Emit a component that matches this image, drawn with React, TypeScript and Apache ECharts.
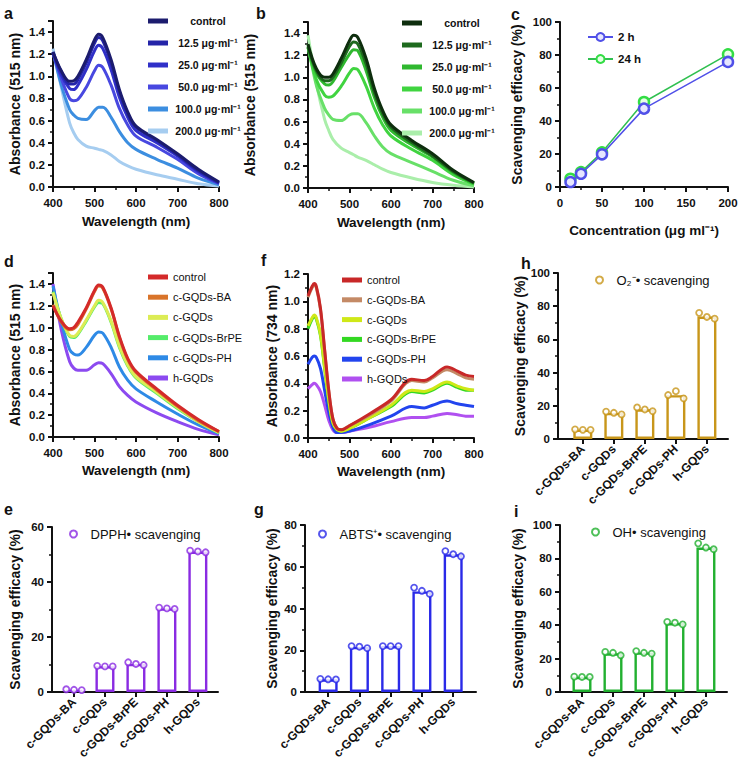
import React, { useEffect, useRef } from "react";
import * as echarts from "echarts";

const FONT = "Liberation Sans, Arial, Helvetica, sans-serif";
const INK = "#111111";

// ---------- spectra (a, b, d) ----------
const WL = [400, 420, 440, 450, 460, 480, 500, 510, 520, 540, 560, 580, 600, 650, 700, 750, 800];

const A_LABELS = ["control", "12.5 μg·ml⁻¹", "25.0 μg·ml⁻¹", "50.0 μg·ml⁻¹", "100.0 μg·ml⁻¹", "200.0 μg·ml⁻¹"];
const A_COLORS = ["#1c1c6e", "#2424a8", "#3030c8", "#4848e0", "#3c8ee0", "#a6cdf0"];
const A_CONTROL = [1.22, 1.05, 0.955, 0.96, 1.0, 1.15, 1.33, 1.38, 1.35, 1.15, 0.88, 0.68, 0.55, 0.43, 0.3, 0.16, 0.045];
const A_12 = [1.22, 1.04, 0.93, 0.93, 0.97, 1.12, 1.3, 1.35, 1.32, 1.12, 0.86, 0.66, 0.54, 0.42, 0.29, 0.15, 0.04];
const A_25 = [1.21, 1.01, 0.89, 0.88, 0.92, 1.06, 1.23, 1.28, 1.25, 1.06, 0.81, 0.63, 0.51, 0.4, 0.28, 0.14, 0.035];
const A_50 = [1.21, 0.98, 0.8, 0.78, 0.79, 0.9, 1.05, 1.1, 1.08, 0.92, 0.71, 0.56, 0.46, 0.36, 0.25, 0.12, 0.03];
const A_100 = [1.22, 0.92, 0.7, 0.65, 0.62, 0.61, 0.69, 0.72, 0.72, 0.63, 0.5, 0.4, 0.34, 0.25, 0.17, 0.08, 0.02];
const A_200 = [1.25, 0.9, 0.58, 0.49, 0.43, 0.37, 0.35, 0.34, 0.33, 0.29, 0.23, 0.19, 0.16, 0.11, 0.07, 0.03, 0.01];

const B_COLORS = ["#0e2e0e", "#1e6a1e", "#2fb82f", "#40d440", "#68e068", "#aaeeaa"];
const B_CONTROL = [1.3, 1.08, 1.0, 1.0, 1.03, 1.17, 1.33, 1.38, 1.36, 1.17, 0.9, 0.7, 0.57, 0.43, 0.31, 0.16, 0.05];
const B_12 = [1.28, 1.06, 0.97, 0.97, 1.0, 1.13, 1.28, 1.32, 1.3, 1.12, 0.86, 0.67, 0.55, 0.41, 0.29, 0.15, 0.045];
const B_25 = [1.27, 1.04, 0.94, 0.93, 0.96, 1.09, 1.21, 1.25, 1.24, 1.06, 0.82, 0.64, 0.52, 0.39, 0.28, 0.14, 0.04];
const B_50 = [1.27, 0.98, 0.84, 0.82, 0.83, 0.92, 1.04, 1.08, 1.07, 0.92, 0.72, 0.57, 0.47, 0.35, 0.25, 0.12, 0.035];
const B_100 = [1.3, 0.93, 0.72, 0.66, 0.62, 0.61, 0.66, 0.67, 0.67, 0.59, 0.47, 0.37, 0.31, 0.23, 0.15, 0.07, 0.02];
const B_200 = [1.38, 0.95, 0.62, 0.52, 0.44, 0.36, 0.32, 0.3, 0.28, 0.25, 0.21, 0.17, 0.14, 0.09, 0.05, 0.025, 0.01];

const D_LABELS = ["control", "c-GQDs-BA", "c-GQDs", "c-GQDs-BrPE", "c-GQDs-PH", "h-GQDs"];
const D_COLORS = ["#d42a2a", "#d9742a", "#dcec55", "#55ec6a", "#2e8ae6", "#8c4af0"];
const D_CONTROL = [1.2, 1.06, 0.99, 1.0, 1.05, 1.18, 1.34, 1.39, 1.37, 1.18, 0.92, 0.72, 0.6, 0.44, 0.29, 0.16, 0.05];
const D_BA = [1.21, 1.05, 0.98, 0.99, 1.03, 1.17, 1.33, 1.38, 1.36, 1.17, 0.91, 0.71, 0.59, 0.43, 0.28, 0.15, 0.05];
const D_CG = [1.32, 1.08, 0.93, 0.92, 0.95, 1.07, 1.2, 1.25, 1.23, 1.06, 0.83, 0.66, 0.55, 0.41, 0.27, 0.14, 0.04];
const D_BRPE = [1.33, 1.08, 0.92, 0.91, 0.94, 1.06, 1.19, 1.23, 1.22, 1.05, 0.82, 0.65, 0.54, 0.4, 0.26, 0.14, 0.04];
const D_PH = [1.38, 1.05, 0.8, 0.76, 0.75, 0.82, 0.93, 0.96, 0.95, 0.82, 0.64, 0.52, 0.44, 0.32, 0.21, 0.11, 0.03];
const D_H = [1.4, 0.98, 0.69, 0.63, 0.61, 0.61, 0.66, 0.68, 0.67, 0.58, 0.46, 0.38, 0.32, 0.22, 0.14, 0.07, 0.02];

// ---------- spectra (f) ----------
const WLF = [400, 410, 415, 420, 430, 440, 450, 460, 470, 480, 500, 550, 600, 650, 680, 700, 735, 760, 780, 800];
const F_COLORS = ["#c82828", "#c48a66", "#cfe818", "#33d822", "#2244ee", "#b050f0"];
const F_CONTROL = [1.04, 1.11, 1.13, 1.11, 0.95, 0.65, 0.35, 0.14, 0.07, 0.06, 0.09, 0.18, 0.28, 0.43, 0.42, 0.45, 0.52, 0.49, 0.46, 0.45];
const F_BA = [1.03, 1.1, 1.12, 1.1, 0.94, 0.64, 0.34, 0.14, 0.07, 0.06, 0.09, 0.17, 0.27, 0.42, 0.41, 0.44, 0.5, 0.47, 0.44, 0.43];
const F_CG = [0.82, 0.88, 0.9, 0.88, 0.76, 0.52, 0.28, 0.11, 0.06, 0.05, 0.07, 0.15, 0.24, 0.35, 0.34, 0.36, 0.41, 0.38, 0.36, 0.35];
const F_BRPE = [0.8, 0.87, 0.89, 0.87, 0.75, 0.51, 0.27, 0.11, 0.06, 0.05, 0.07, 0.15, 0.23, 0.34, 0.33, 0.35, 0.4, 0.37, 0.35, 0.35];
const F_PH = [0.54, 0.59, 0.6, 0.59, 0.51, 0.35, 0.19, 0.08, 0.04, 0.04, 0.05, 0.1, 0.16, 0.23, 0.22, 0.24, 0.27, 0.25, 0.24, 0.23];
const F_H = [0.36, 0.39, 0.4, 0.39, 0.34, 0.24, 0.13, 0.06, 0.04, 0.04, 0.05, 0.08, 0.12, 0.15, 0.15, 0.16, 0.18, 0.17, 0.16, 0.16];

// ---------- panel c ----------
const C_CONC = [12.5, 25, 50, 100, 200];
const C_2H = [3.0, 8.0, 19.8, 47.5, 75.8];
const C_24H = [5.0, 9.0, 21.0, 51.5, 80.4];

// ---------- bar panels ----------
const CATS = ["c-GQDs-BA", "c-GQDs", "c-GQDs-BrPE", "c-GQDs-PH", "h-GQDs"];
const CAT_POS = [1, 2, 3, 4, 5];
const JITTER = [-0.25, 0, 0.25];

const E_MEANS = [0.8, 9.4, 10.2, 30.4, 51.1];
const E_REPS = [[1.0, 0.8, 0.7], [9.5, 9.3, 9.3], [10.8, 10.2, 9.8], [30.7, 30.4, 30.2], [51.4, 51.1, 50.8]];
const G_MEANS = [6.1, 21.6, 22.0, 48.2, 66.0];
const G_REPS = [[6.3, 6.1, 6.0], [22.0, 21.7, 21.0], [22.0, 22.0, 22.0], [50.0, 48.5, 47.0], [67.5, 66.0, 65.0]];
const H_MEANS = [5.6, 15.7, 17.9, 26.4, 73.8];
const H_REPS = [[5.8, 5.5, 5.5], [16.5, 15.8, 14.8], [19.0, 17.8, 16.8], [26.5, 28.8, 24.5], [76.0, 73.5, 72.5]];
const I_MEANS = [9.1, 23.2, 23.7, 41.3, 86.5];
const I_REPS = [[9.2, 9.0, 9.0], [24.0, 23.5, 22.0], [24.5, 23.5, 23.0], [42.0, 41.5, 40.5], [89.0, 86.5, 85.5]];

const labelStyle = { fontFamily: FONT, fontWeight: "bold", fontSize: 11.5, color: INK };
const nameStyleX = { fontFamily: FONT, fontWeight: "bold", fontSize: 13.5, color: INK };
const nameStyleY = { fontFamily: FONT, fontWeight: "bold", fontSize: 14, color: INK };

function axisCommon() {
  return {
    axisLine: { show: true, lineStyle: { color: INK, width: 2 } },
    axisTick: { show: true, length: 5, lineStyle: { color: INK, width: 2 } },
    minorTick: { show: true, splitNumber: 2, length: 3, lineStyle: { color: INK, width: 1.5 } },
    splitLine: { show: false },
    minorSplitLine: { show: false },
  };
}

function specX(grid: number, gap: number) {
  return {
    type: "value", gridIndex: grid, min: 400, max: 800, interval: 100,
    ...axisCommon(),
    axisLabel: { ...labelStyle, margin: 10 },
    name: "Wavelength (nm)", nameLocation: "middle", nameGap: gap, nameTextStyle: nameStyleX,
  };
}

function specY(grid: number, max: number, title: string, gap: number) {
  return {
    type: "value", gridIndex: grid, min: 0, max, interval: 0.2,
    ...axisCommon(),
    axisLabel: { ...labelStyle, margin: 8, showMaxLabel: max === 1.2, formatter: (v: number) => v.toFixed(1) },
    name: title, nameLocation: "middle", nameGap: gap, nameTextStyle: nameStyleY,
  };
}

function barX(grid: number, min: number, max: number) {
  return {
    type: "value", gridIndex: grid, min, max,
    axisLine: { show: true, lineStyle: { color: INK, width: 2 } },
    axisTick: { show: true, length: 5, customValues: CAT_POS, lineStyle: { color: INK, width: 2 } },
    minorTick: { show: false },
    splitLine: { show: false },
    axisLabel: {
      ...labelStyle, fontSize: 12, rotate: 45, margin: 8, customValues: CAT_POS,
      formatter: (v: number) => CATS[Math.round(v) - 1] ?? "",
    },
  };
}

function barY(grid: number, max: number, gap: number) {
  return {
    type: "value", gridIndex: grid, min: 0, max, interval: 20,
    ...axisCommon(),
    axisLabel: { ...labelStyle, margin: 8 },
    name: "Scavenging efficacy (%)", nameLocation: "middle", nameGap: gap, nameTextStyle: nameStyleY,
  };
}

function spectra(panel: string, idx: number, labels: string[], colors: string[], xs: number[], data: number[][]) {
  return labels
    .map((l, k) => ({
      type: "line",
      name: `${panel}|${l}`,
      xAxisIndex: idx,
      yAxisIndex: idx,
      data: xs.map((w, i) => [w, data[k][i]]),
      smooth: 0.35,
      showSymbol: false,
      symbol: "none",
      lineStyle: { color: colors[k], width: 3 },
      itemStyle: { color: colors[k] },
    }))
    .reverse();
}

function barPanel(panel: string, idx: number, legendName: string, color: string, means: number[], reps: number[][]) {
  const pts: number[][] = [];
  reps.forEach((r, i) => r.forEach((v, j) => pts.push([CAT_POS[i] + JITTER[j], v])));
  return [
    {
      type: "bar",
      name: `${panel}|bars`,
      xAxisIndex: idx,
      yAxisIndex: idx,
      barWidth: 19,
      data: means.map((m, i) => [CAT_POS[i], m]),
      itemStyle: { color: "#ffffff", borderColor: color, borderWidth: 2.4 },
    },
    {
      type: "scatter",
      name: `${panel}|${legendName}`,
      xAxisIndex: idx,
      yAxisIndex: idx,
      symbol: "circle",
      symbolSize: 6,
      z: 5,
      data: pts,
      itemStyle: { color: "#ffffff", borderColor: color, borderWidth: 1.8 },
    },
  ];
}

function lineLegend(panel: string, labels: string[], left: number, top: number, gap: number, bold: boolean, centered: boolean) {
  return {
    orient: "vertical",
    left, top,
    itemGap: gap,
    itemWidth: 20,
    itemHeight: 5,
    icon: "rect",
    selectedMode: false,
    data: labels.map((l) => `${panel}|${l}`),
    formatter: (n: string) => (centered ? `{c|${n.split("|")[1]}}` : n.split("|")[1]),
    textStyle: {
      fontFamily: FONT, fontSize: bold ? 10.5 : 11, fontWeight: bold ? "bold" : "normal", color: INK, lineHeight: 14,
      rich: { c: { width: 70, align: "center", fontFamily: FONT, fontSize: 10.5, fontWeight: "bold", color: INK } },
    },
  };
}

function dotLegend(panel: string, name: string, color: string, left: number, top: number) {
  return {
    orient: "vertical",
    left, top,
    itemWidth: 24,
    itemHeight: 7,
    selectedMode: false,
    data: [{ name: `${panel}|${name}`, icon: "circle", itemStyle: { color: "#ffffff", borderColor: color, borderWidth: 2 } }],
    formatter: (n: string) => n.split("|")[1],
    textStyle: { fontFamily: FONT, fontSize: 13, color: INK, lineHeight: 16 },
  };
}

function letter(t: string, x: number, y: number) {
  return { type: "text", x, y, style: { text: t, font: `bold 16px ${FONT}`, fill: INK, verticalAlign: "top" } };
}

export default function App() {
  const ref = useRef<HTMLDivElement>(null);
  useEffect(() => {
    if (!ref.current) return;
    const chart = echarts.init(ref.current, null, { renderer: "svg" });
    const option: any = {
      animation: false,
      backgroundColor: "#ffffff",
      grid: [
        { left: 53, top: 21, width: 166, height: 166 }, // a 0
        { left: 308, top: 22, width: 166, height: 166 }, // b 1
        { left: 560, top: 22, width: 168, height: 165 }, // c 2
        { left: 53, top: 273, width: 166, height: 164 }, // d 3
        { left: 308, top: 274, width: 166, height: 164 }, // f 4
        { left: 558, top: 273, width: 170, height: 166 }, // h 5
        { left: 52, top: 527, width: 166, height: 165 }, // e 6
        { left: 305, top: 525, width: 171, height: 167 }, // g 7
        { left: 560, top: 525, width: 167, height: 167 }, // i 8
      ],
      xAxis: [
        specX(0, 27),
        specX(1, 27),
        {
          type: "value", gridIndex: 2, min: 0, max: 200, interval: 50,
          ...axisCommon(),
          axisLabel: { ...labelStyle, margin: 10 },
          name: "Concentration (μg ml⁻¹)", nameLocation: "middle", nameGap: 36, nameTextStyle: nameStyleX,
        },
        specX(3, 26),
        specX(4, 26),
        barX(5, 0.2, 5.68),
        barX(6, 0.29, 5.65),
        barX(7, 0.26, 5.73),
        barX(8, 0.29, 5.68),
      ],
      yAxis: [
        specY(0, 1.5, "Absorbance (515 nm)", 31),
        specY(1, 1.5, "Absorbance (515 nm)", 51),
        {
          type: "value", gridIndex: 2, min: 0, max: 100, interval: 20,
          ...axisCommon(),
          axisLabel: { ...labelStyle, margin: 8 },
          name: "Scavenging efficacy (%)", nameLocation: "middle", nameGap: 36, nameTextStyle: nameStyleY,
        },
        specY(3, 1.5, "Absorbance (515 nm)", 31),
        specY(4, 1.2, "Absorbance (734 nm)", 29),
        barY(5, 100, 31),
        barY(6, 60, 30),
        barY(7, 80, 26),
        barY(8, 100, 35),
      ],
      legend: [
        lineLegend("a", A_LABELS, 143, 9, 8, true, true),
        lineLegend("b", A_LABELS, 397, 11, 8, true, true),
        {
          orient: "vertical", left: 582, top: 25, itemGap: 8, itemWidth: 25, itemHeight: 10, selectedMode: false,
          data: ["c|2 h", "c|24 h"],
          formatter: (n: string) => n.split("|")[1],
          textStyle: { fontFamily: FONT, fontSize: 11.5, fontWeight: "bold", color: INK, lineHeight: 14 },
        },
        lineLegend("d", D_LABELS, 143, 265, 6.2, false, false),
        lineLegend("f", D_LABELS, 337, 268, 5.8, false, false),
        dotLegend("e", "DPPH• scavenging", "#8a2be2", 64, 521),
        dotLegend("g", "ABTS⁺• scavenging", "#2a2ae8", 313, 521),
        dotLegend("h", "O₂⁻• scavenging", "#c8961a", 590, 267),
        dotLegend("i", "OH• scavenging", "#22b030", 586, 519),
      ],
      graphic: [
        letter("a", 4, 5),
        letter("b", 256, 5),
        letter("c", 511, 6),
        letter("d", 4, 253),
        letter("f", 261, 252),
        letter("h", 521, 255),
        letter("e", 4, 501),
        letter("g", 254, 501),
        letter("i", 514, 503),
      ],
      series: [
        ...spectra("a", 0, A_LABELS, A_COLORS, WL, [A_CONTROL, A_12, A_25, A_50, A_100, A_200]),
        ...spectra("b", 1, A_LABELS, B_COLORS, WL, [B_CONTROL, B_12, B_25, B_50, B_100, B_200]),
        {
          type: "line", name: "c|2 h", xAxisIndex: 2, yAxisIndex: 2,
          data: C_CONC.map((c, i) => [c, C_2H[i]]),
          symbol: "circle", symbolSize: 10,
          lineStyle: { color: "#5050e8", width: 1.5 },
          itemStyle: { color: "#e6e6ff", borderColor: "#5050e8", borderWidth: 2.5 },
          z: 3,
        },
        {
          type: "line", name: "c|24 h", xAxisIndex: 2, yAxisIndex: 2,
          data: C_CONC.map((c, i) => [c, C_24H[i]]),
          symbol: "circle", symbolSize: 10,
          lineStyle: { color: "#30c050", width: 1.5 },
          itemStyle: { color: "#e6ffe6", borderColor: "#33dd44", borderWidth: 2.5 },
          z: 2,
        },
        ...spectra("d", 3, D_LABELS, D_COLORS, WL, [D_CONTROL, D_BA, D_CG, D_BRPE, D_PH, D_H]),
        ...spectra("f", 4, D_LABELS, F_COLORS, WLF, [F_CONTROL, F_BA, F_CG, F_BRPE, F_PH, F_H]),
        ...barPanel("h", 5, "O₂⁻• scavenging", "#c8961a", H_MEANS, H_REPS),
        ...barPanel("e", 6, "DPPH• scavenging", "#8a2be2", E_MEANS, E_REPS),
        ...barPanel("g", 7, "ABTS⁺• scavenging", "#2a2ae8", G_MEANS, G_REPS),
        ...barPanel("i", 8, "OH• scavenging", "#22b030", I_MEANS, I_REPS),
      ],
    };
    chart.setOption(option);
    return () => chart.dispose();
  }, []);
  return (
    <div
      ref={ref}
      style={{ position: "absolute", left: 0, top: 0, width: 741, height: 773, background: "#fff" }}
    />
  );
}
